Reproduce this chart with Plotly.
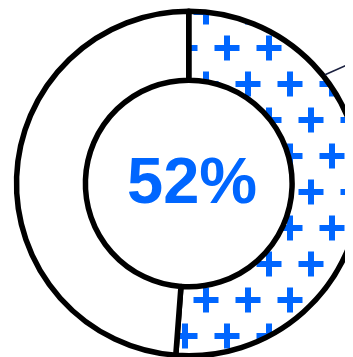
import plotly.graph_objects as go

labels = ["Share", "Rest"]
values = [51.2, 48.8]
center_label = "52%"

W, H = 353, 357
BLUE = "#0066FF"

# donut geometry in figure (svg) pixels
cx, cy, r = 181, 175.5, 172.5
HOLE = 0.6

# plus-sign pattern tile (staggered rows)
TILE_W, TILE_H, ARM, THICK = 42, 72, 12.5, 6
TILE_SHIFT = (9, -14)

fig = go.Figure(
    go.Pie(
        labels=labels,
        values=values,
        hole=HOLE,
        sort=False,
        direction="clockwise",
        rotation=0,
        textinfo="none",
        hoverinfo="label+percent",
        marker=dict(
            colors=["white", "white"],
            line=dict(color="black", width=5.5),
            pattern=dict(
                shape=["+", ""],
                fgcolor=BLUE,
                bgcolor="white",
                size=TILE_W,
                solidity=0.12,
            ),
        ),
        domain=dict(
            x=[max(0, (cx - r) / W), min(1, (cx + r) / W)],
            y=[max(0, 1 - (cy + r) / H), min(1, 1 - (cy - r) / H)],
        ),
        showlegend=False,
    )
)

fig.add_annotation(
    x=184 / W, y=1 - 172 / H, xref="paper", yref="paper",
    text=f"<b>{center_label}</b>", showarrow=False,
    xanchor="center", yanchor="middle",
    font=dict(family="Liberation Sans, Arial, sans-serif", size=65, color=BLUE),
)

fig.add_shape(
    type="line", xref="paper", yref="paper",
    x0=317 / W, y0=1 - 66.7 / H, x1=362 / W, y1=1 - 46.8 / H,
    line=dict(color="#1b2140", width=1.5),
)

fig.update_layout(
    width=W, height=H,
    margin=dict(l=0, r=0, t=0, b=0),
    paper_bgcolor="white", plot_bgcolor="white",
)

# turn plotly's "+" grid pattern into separate, staggered plus signs
centers = [(TILE_W / 2, TILE_H / 4), (0, 3 * TILE_H / 4), (TILE_W, 3 * TILE_H / 4)]
d = "".join(
    f"M{x - ARM},{y}H{x + ARM}M{x},{y - ARM}V{y + ARM}" for x, y in centers
)
post = f"""
var gd = document.getElementById('{{plot_id}}');
gd.querySelectorAll('pattern').forEach(function(p) {{
  p.setAttribute('width', '{TILE_W}');
  p.setAttribute('height', '{TILE_H}');
  p.setAttribute('patternTransform', 'translate({TILE_SHIFT[0]},{TILE_SHIFT[1]})');
  var rc = p.querySelector('rect');
  if (rc) {{ rc.setAttribute('width', '{TILE_W}'); rc.setAttribute('height', '{TILE_H}'); }}
  var pa = p.querySelector('path');
  if (pa) {{ pa.setAttribute('d', '{d}'); pa.setAttribute('stroke-width', '{THICK}'); pa.setAttribute('opacity', '1'); }}
}});
"""

fig.write_html("out.html", post_script=post)
